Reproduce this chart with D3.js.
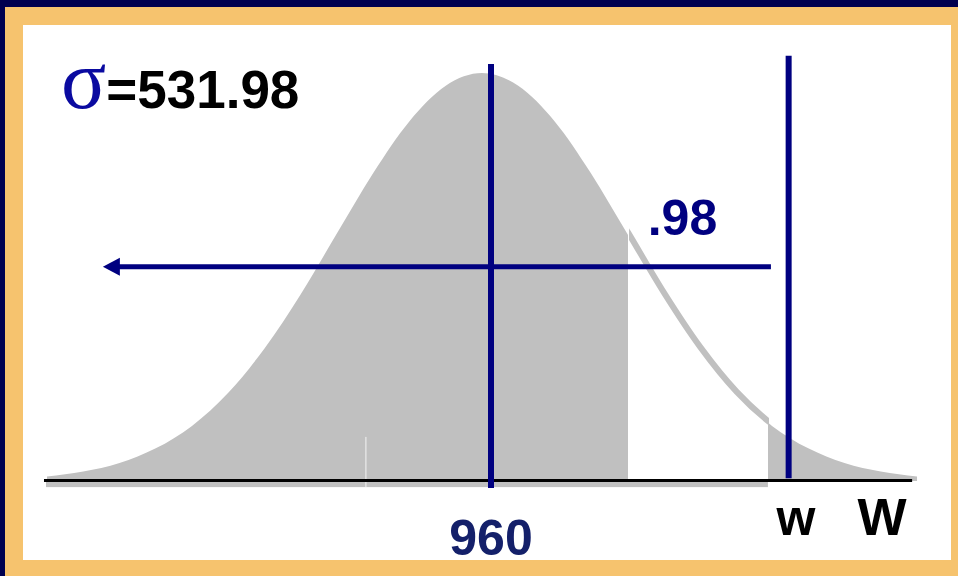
<!DOCTYPE html>
<html>
<head>
<meta charset="utf-8">
<script src="https://cdn.jsdelivr.net/npm/d3@7"></script>
<style>
  body { margin: 0; background: #fff; }
  text { font-family: "Liberation Sans", Arial, sans-serif; font-weight: bold; }
</style>
</head>
<body>
<div id="chart"></div>
<script>

// distribution of W, mean 960, sigma 531.98 (curve heights, peak = 1)
var mean = 960,
    sigma = 531.98;

var curveW = [-669, -536, -403, -270, -137, -4, 129, 262, 395, 528, 661, 794, 927,
              1060, 1193, 1326, 1459, 1592, 1725, 1858, 1991, 2124, 2257, 2390, 2523];
var curveH = [0.011, 0.023, 0.044, 0.080, 0.135, 0.216, 0.325, 0.458, 0.607, 0.755, 0.882, 0.969, 1.000,
              0.969, 0.882, 0.755, 0.607, 0.458, 0.325, 0.216, 0.135, 0.080, 0.044, 0.023, 0.011];

var cutW = 1463,       // shaded part ends here
    tailW = 1976,      // right tail shaded from here
    wValue = 2052,     // the "w" line
    arrowFrom = 1987,
    arrowTo = -464,
    arrowLevel = 0.525,
    axisFrom = -680,
    axisTo = 2505;

var labelText = ["960", "w", "W"],
    labelW = [960, 2079, 2395];

var probText = ".98";

var width = 958, height = 576;

var svg = d3.select("#chart").append("svg")
    .attr("width", width)
    .attr("height", height);

// frame
svg.append("rect").attr("width", width).attr("height", height).attr("fill", "#00004f");
svg.append("rect").attr("x", 5).attr("y", 7).attr("width", width - 5).attr("height", height - 7)
    .attr("fill", "#f6c36e");
svg.append("rect").attr("x", 23).attr("y", 25).attr("width", 928).attr("height", 535)
    .attr("fill", "#ffffff");

var x = d3.scaleLinear().domain([mean, mean + sigma]).range([491, 636]),
    y = d3.scaleLinear().domain([0, 1]).range([481, 73]);

var pts = curveW.map(function(d, i) { return {w: d, h: curveH[i]}; });

var area = d3.area()
    .x(function(d) { return x(d.w); })
    .y0(y(0))
    .y1(function(d) { return y(d.h); })
    .curve(d3.curveMonotoneX);

var line = d3.line()
    .x(function(d) { return x(d.w); })
    .y(function(d) { return y(d.h); })
    .curve(d3.curveMonotoneX);

var defs = svg.append("defs");
defs.append("clipPath").attr("id", "clip-left")
    .append("rect").attr("x", 0).attr("y", 0)
    .attr("width", x(cutW)).attr("height", height);
defs.append("clipPath").attr("id", "clip-mid")
    .append("rect").attr("x", x(cutW)).attr("y", 0)
    .attr("width", x(tailW) - x(cutW)).attr("height", height);
defs.append("clipPath").attr("id", "clip-right")
    .append("rect").attr("x", x(tailW)).attr("y", 0)
    .attr("width", width - x(tailW)).attr("height", height);

// shadow under the axis
svg.append("rect")
    .attr("x", x(curveW[0]) - 1)
    .attr("y", y(0))
    .attr("width", x(tailW) - x(curveW[0]) + 1)
    .attr("height", y(-0.015) - y(0))
    .attr("fill", "#c0c0c0");

svg.append("path").datum(pts)
    .attr("clip-path", "url(#clip-left)")
    .attr("d", area)
    .attr("fill", "#c0c0c0");

svg.append("path").datum(pts)
    .attr("clip-path", "url(#clip-right)")
    .attr("d", area)
    .attr("fill", "#c0c0c0");

svg.append("path").datum(pts)
    .attr("clip-path", "url(#clip-mid)")
    .attr("transform", "translate(1,-1)")
    .attr("d", line)
    .attr("fill", "none")
    .attr("stroke", "#c0c0c0")
    .attr("stroke-width", 6);

// small seam in the shading
svg.append("line")
    .attr("x1", x(501)).attr("x2", x(501))
    .attr("y1", y(0.108)).attr("y2", y(-0.015))
    .attr("stroke", "#f4f4f4").attr("stroke-width", 1);

// axis line
svg.append("line")
    .attr("x1", x(axisFrom)).attr("x2", x(axisTo))
    .attr("y1", y(0) - 0.5).attr("y2", y(0) - 0.5)
    .attr("stroke", "#000").attr("stroke-width", 3);

// mean line
svg.append("line")
    .attr("x1", x(mean)).attr("x2", x(mean))
    .attr("y1", y(1.022)).attr("y2", y(-0.017))
    .attr("stroke", "#000080").attr("stroke-width", 6);

// w line
svg.append("line")
    .attr("x1", x(wValue)).attr("x2", x(wValue))
    .attr("y1", y(1.042)).attr("y2", y(0.007))
    .attr("stroke", "#000080").attr("stroke-width", 6);

// arrow back to the left
var ay = y(arrowLevel);
svg.append("line")
    .attr("x1", x(arrowFrom)).attr("x2", x(arrowTo) + 15)
    .attr("y1", ay).attr("y2", ay)
    .attr("stroke", "#000080").attr("stroke-width", 5);
svg.append("path")
    .attr("d", "M" + x(arrowTo) + "," + ay +
        "L" + (x(arrowTo) + 17) + "," + (ay - 9) +
        "L" + (x(arrowTo) + 17) + "," + (ay + 9) + "Z")
    .attr("fill", "#000080");

// sigma
var sig = svg.append("text")
    .attr("x", 61).attr("y", 108);
sig.append("tspan")
    .style("font-family", "'Liberation Serif', 'Times New Roman', serif")
    .style("font-weight", "normal")
    .style("font-size", "84px")
    .attr("fill", "#0a0aa0")
    .text("σ");
sig.append("tspan")
    .style("font-size", "53px")
    .attr("fill", "#000")
    .text("=531.98");

svg.append("text")
    .attr("x", x(1535)).attr("y", 235)
    .style("font-size", "50px")
    .attr("fill", "#000080")
    .text(probText);

svg.selectAll(".lab")
    .data(labelText)
    .enter().append("text")
    .attr("class", "lab")
    .attr("text-anchor", "middle")
    .attr("x", function(d, i) { return x(labelW[i]); })
    .attr("y", function(d, i) { return i == 0 ? 555 : 535; })
    .style("font-size", function(d, i) { return i == 0 ? "50px" : (i == 1 ? "50px" : "52px"); })
    .attr("fill", function(d, i) { return i == 0 ? "#14206a" : "#000"; })
    .text(function(d) { return d; });

</script>
</body>
</html>
